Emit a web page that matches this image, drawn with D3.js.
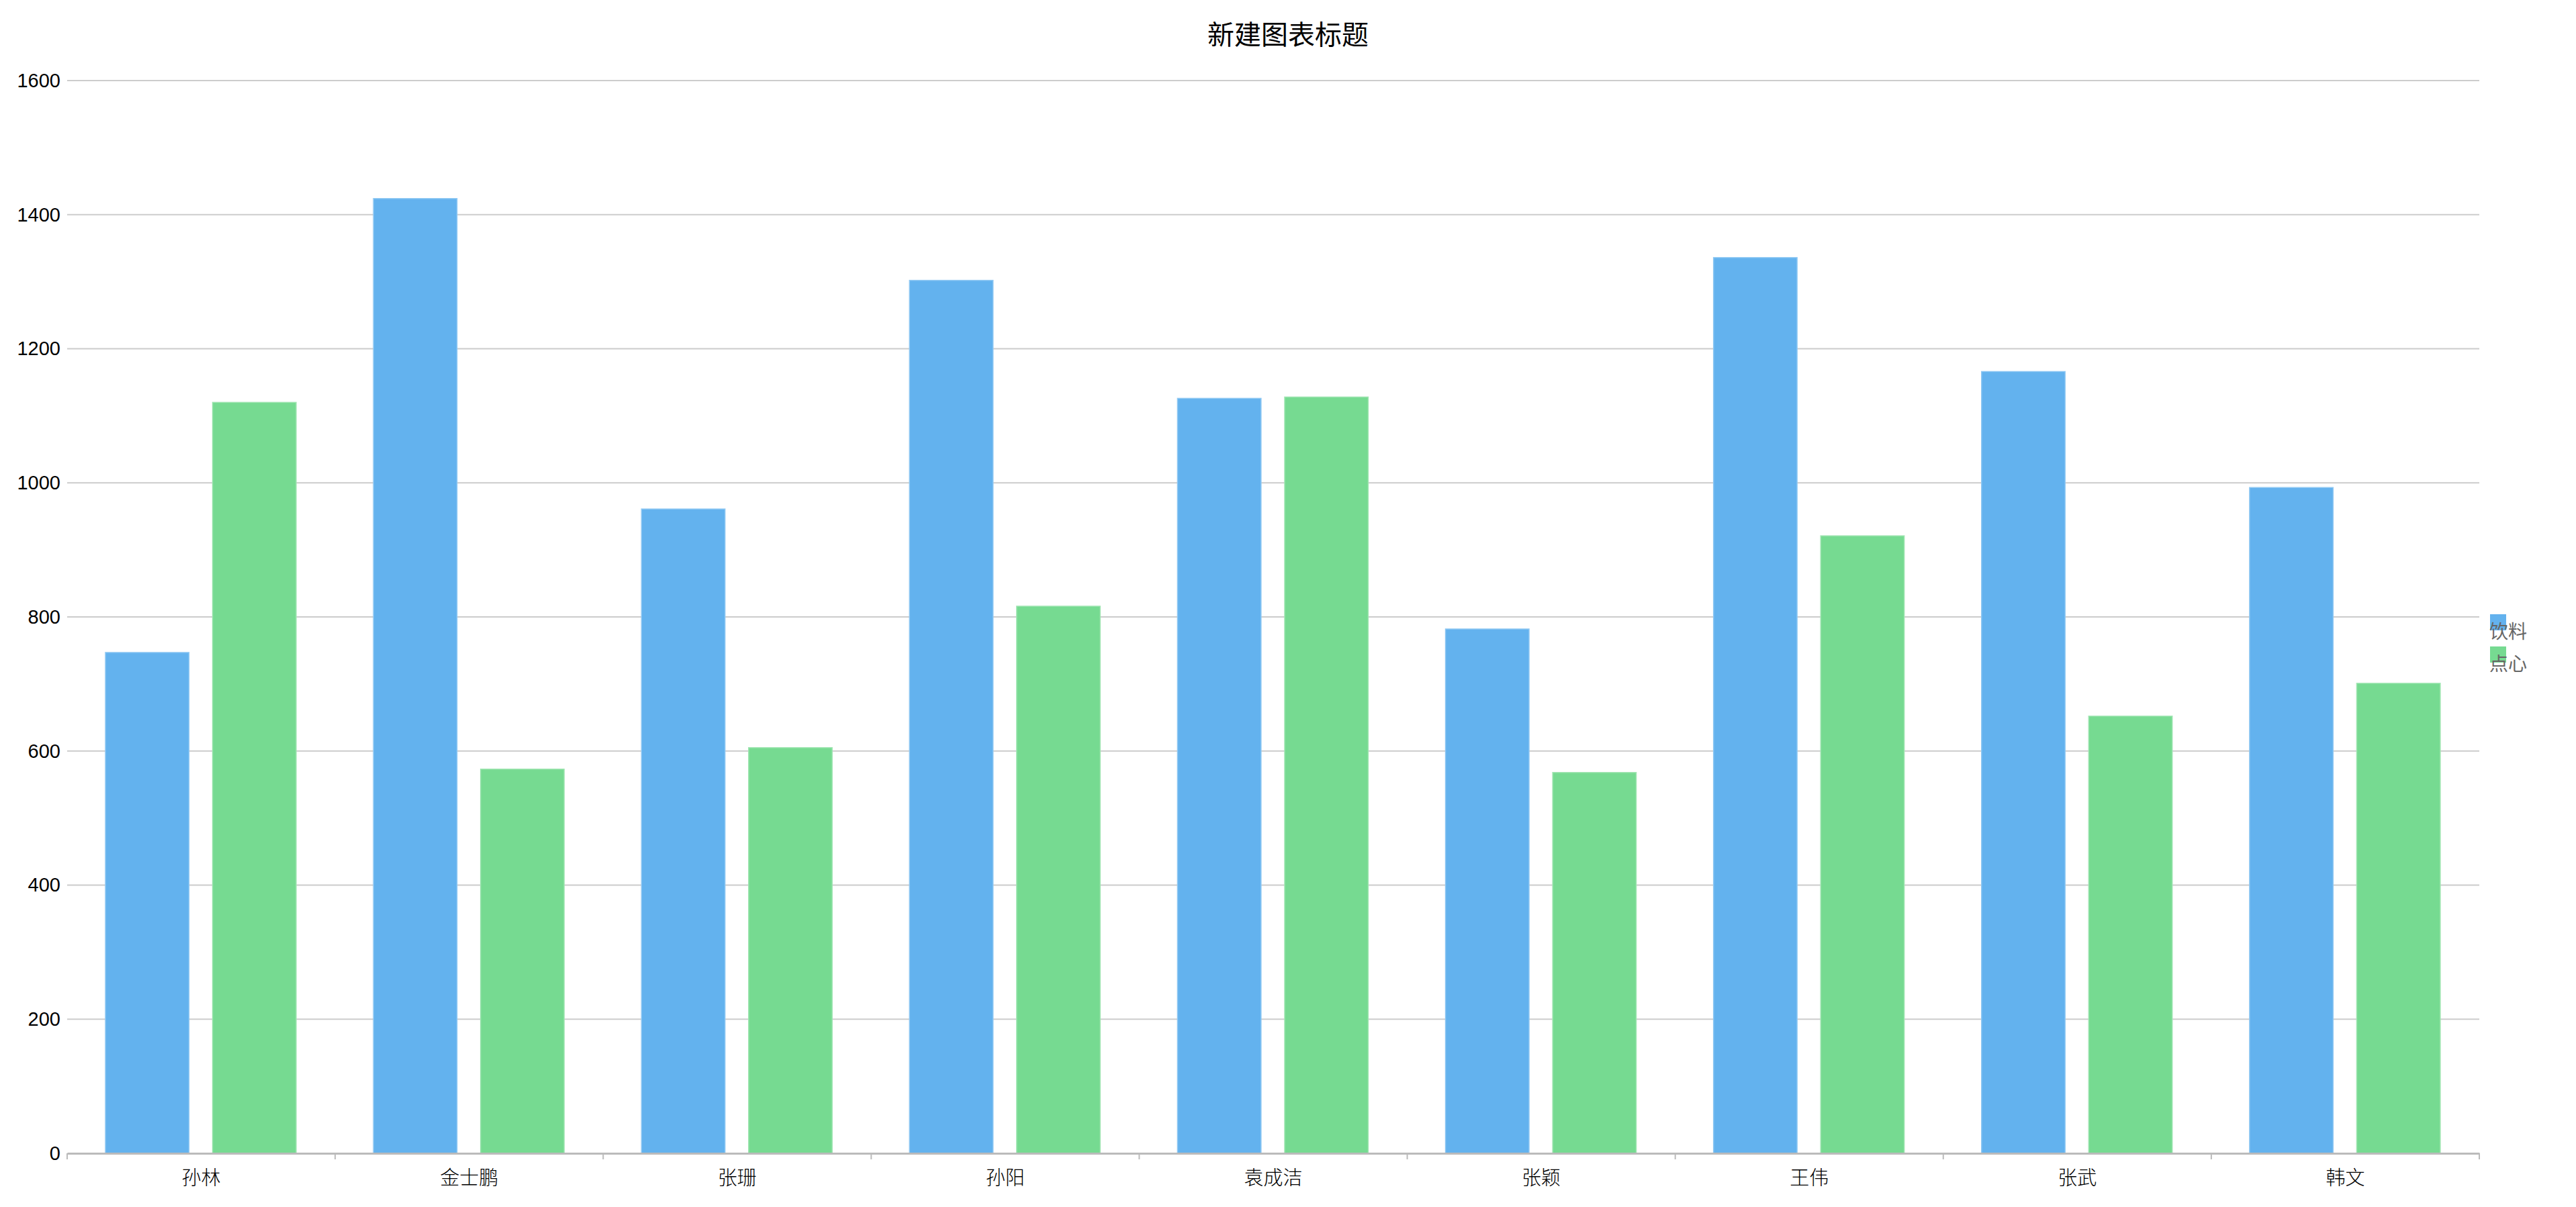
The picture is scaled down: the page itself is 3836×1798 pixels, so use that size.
<!DOCTYPE html>
<html><head><meta charset="utf-8">
<script src="https://cdn.jsdelivr.net/npm/d3@7"></script>
<style>html,body{margin:0;padding:0;background:#fff;}</style>
</head><body>
<svg id="chart" width="3836" height="1798"></svg>
<script>
const categories = ["孙林","金士鹏","张珊","孙阳","袁成洁","张颖","王伟","张武","韩文"];
const seriesNames = ["饮料","点心"];
const drinks = [747, 1424, 961, 1302, 1126, 782, 1336, 1166, 993];
const snacks = [1120, 573, 605, 816, 1128, 568, 921, 652, 701];
const yTicks = [0,200,400,600,800,1000,1200,1400,1600];
const colors = ["#63b2ee","#76da91"];
const strokes = ["#8fc8f3","#9fe5b1"];
const chartTitle = "新建图表标题";

(function(){
const svg = d3.select("#chart");
const mLeft = 100, mRight = 3692, mTop = 120, mBottom = 1718;

const x = d3.scaleBand().domain(categories).range([mLeft, mRight]);
const x1 = d3.scaleBand().domain(seriesNames).range([57, 341]).paddingInner(0.22);
const y = d3.scaleLinear().domain([0,1600]).range([mBottom, mTop]);

svg.append("text").attr("x", 1918).attr("y", 66).attr("text-anchor","middle")
  .attr("font-family","'Noto Sans CJK SC', sans-serif").attr("font-size",40).attr("fill","#000")
  .text(chartTitle);

svg.append("g").selectAll("line").data(yTicks.filter(d=>d>0)).join("line")
  .attr("x1", mLeft).attr("x2", mRight).attr("y1", d=>y(d)).attr("y2", d=>y(d))
  .attr("stroke","#cccccc").attr("stroke-width",2);

const yAxis = d3.axisLeft(y).tickValues(yTicks).tickFormat(d3.format("d")).tickSize(0).tickPadding(10);
const yg = svg.append("g").attr("transform",`translate(${mLeft},0)`).call(yAxis);
yg.select(".domain").remove();
yg.selectAll("text").attr("font-family","'Liberation Sans', Arial, sans-serif").attr("font-size",29).attr("fill","#000");

const data = categories.map((c,i)=>({cat:c, vals:[drinks[i], snacks[i]]}));
const groups = svg.append("g").selectAll("g").data(data).join("g")
  .attr("transform", d=>`translate(${x(d.cat)},0)`);
groups.selectAll("rect").data(d=>d.vals.map((v,j)=>({s:seriesNames[j], v, j}))).join("rect")
  .attr("x", d=>x1(d.s)).attr("width", x1.bandwidth())
  .attr("y", d=>y(d.v)).attr("height", d=>y(0)-y(d.v))
  .attr("fill", d=>colors[d.j]).attr("stroke", d=>strokes[d.j]).attr("stroke-width",1.5);

const xAxis = d3.axisBottom(x).tickSize(0).tickPadding(26);
const xg = svg.append("g").attr("transform",`translate(0,${mBottom})`).call(xAxis);
xg.select(".domain").attr("stroke","#bbbbbb").attr("stroke-width",3);
xg.selectAll("text").attr("font-family","'Noto Sans CJK SC', serif").attr("font-size",29).attr("fill","#000").attr("font-weight",300);
const bounds = categories.map(c=>x(c)).concat([mRight]);
xg.append("g").selectAll("line").data(bounds).join("line")
  .attr("x1",d=>d).attr("x2",d=>d).attr("y1",0).attr("y2",9)
  .attr("stroke","#bbbbbb").attr("stroke-width",2);

const lg = svg.append("g").selectAll("g").data(seriesNames).join("g")
  .attr("transform",(d,i)=>`translate(3708,${915 + i*48})`);
lg.append("rect").attr("width",24).attr("height",24).attr("fill",(d,i)=>colors[i]);
lg.append("text").attr("x",-1).attr("y",36).attr("font-family","'Noto Sans CJK SC', sans-serif")
  .attr("font-size",28).attr("fill","#666").text(d=>d);
})();
</script>
</body></html>
